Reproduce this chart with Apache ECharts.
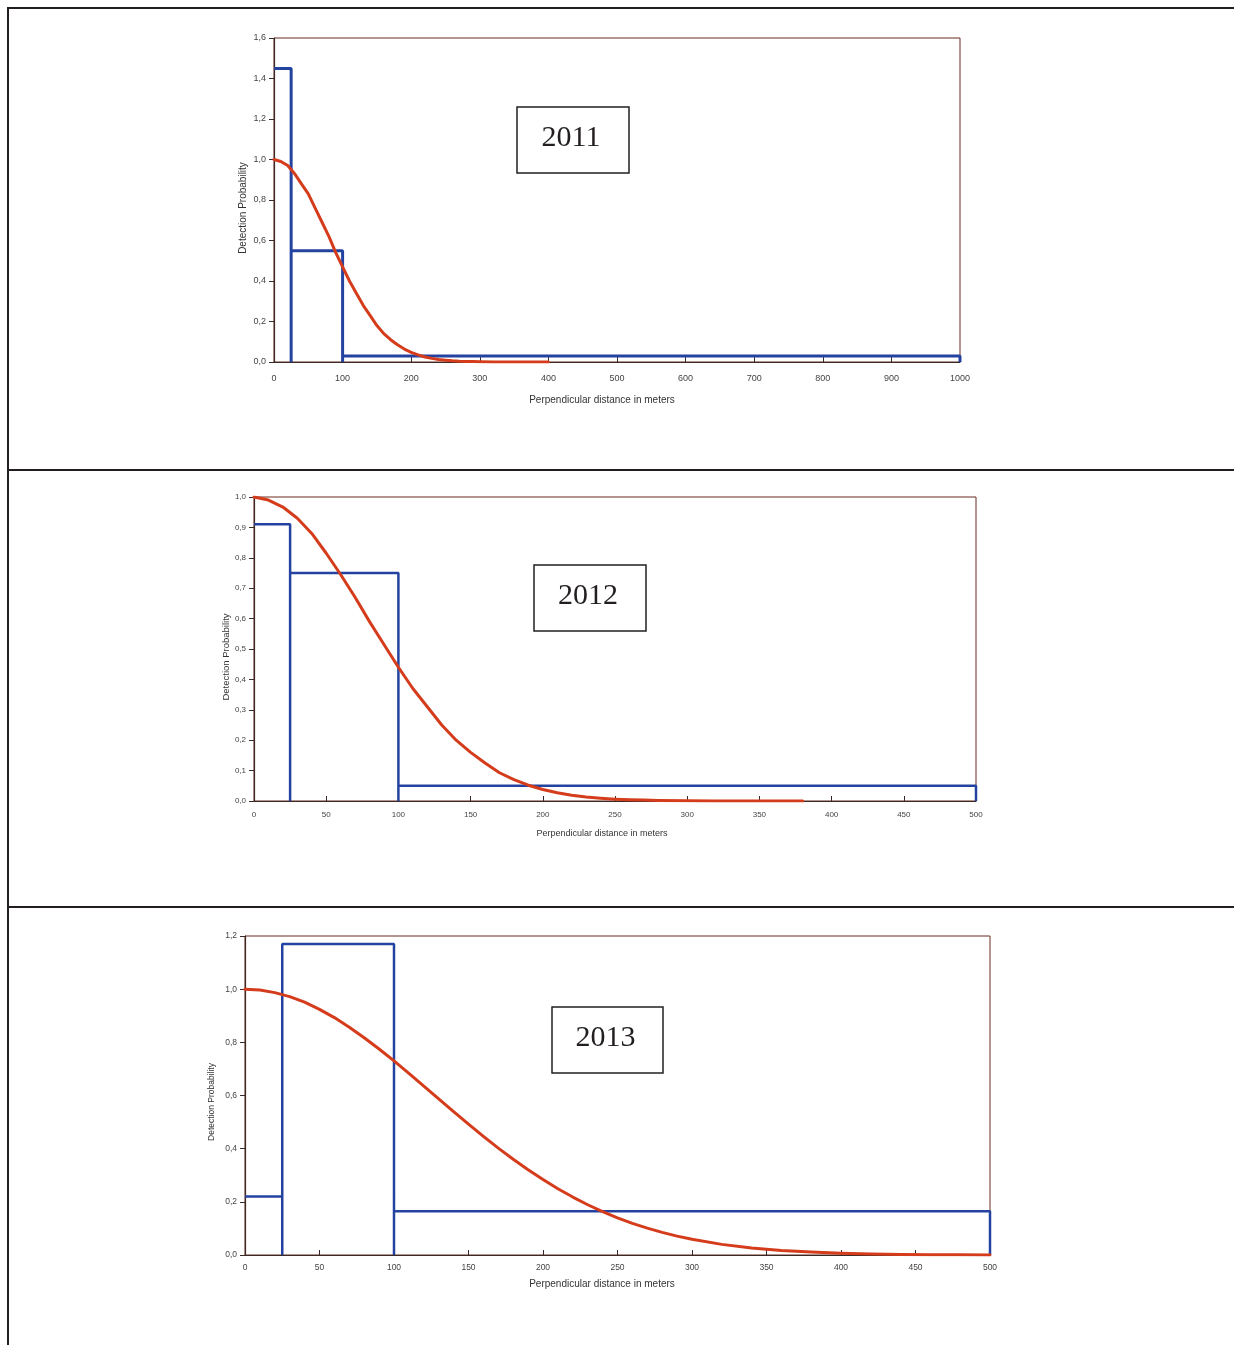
<!DOCTYPE html>
<html>
<head>
<meta charset="utf-8">
<script src="https://cdn.jsdelivr.net/npm/echarts@6/dist/echarts.min.js"></script>
<style>
html,body{margin:0;padding:0;background:#fff;}
#chart{width:1234px;height:1345px;}
</style>
</head>
<body>
<div id="chart"></div>
<script>
// ---- Data ----
const years = ['2011', '2012', '2013'];

const binEdges2011 = [0, 25, 100, 1000];
const binHeights2011 = [1.45, 0.55, 0.03];
const dist2011 = [0, 10, 20, 30, 40, 50, 60, 70, 80, 90, 100, 110, 120, 130, 140, 150, 160, 170, 180, 190, 200, 210, 220, 230, 240, 250, 260, 270, 280, 290, 300, 320, 340, 360, 380, 400];
const prob2011 = [1.0, 0.99, 0.97, 0.93, 0.88, 0.83, 0.76, 0.69, 0.62, 0.54, 0.47, 0.40, 0.34, 0.28, 0.23, 0.18, 0.14, 0.11, 0.085, 0.064, 0.048, 0.035, 0.025, 0.018, 0.012, 0.009, 0.006, 0.004, 0.003, 0.002, 0.001, 0, 0, 0, 0, 0];

const binEdges2012 = [0, 25, 100, 500];
const binHeights2012 = [0.91, 0.75, 0.05];
const dist2012 = [0, 10, 20, 30, 40, 50, 60, 70, 80, 90, 100, 110, 120, 130, 140, 150, 160, 170, 180, 190, 200, 210, 220, 230, 240, 250, 260, 270, 280, 300, 320, 340, 360, 380];
const prob2012 = [1.0, 0.99, 0.967, 0.93, 0.88, 0.815, 0.745, 0.67, 0.59, 0.515, 0.44, 0.37, 0.31, 0.25, 0.20, 0.16, 0.125, 0.093, 0.07, 0.052, 0.038, 0.027, 0.019, 0.013, 0.009, 0.006, 0.004, 0.003, 0.002, 0.001, 0, 0, 0, 0];

const binEdges2013 = [0, 25, 100, 500];
const binHeights2013 = [0.22, 1.17, 0.165];
const dist2013 = [0, 10, 20, 30, 40, 50, 60, 70, 80, 90, 100, 110, 120, 130, 140, 150, 160, 170, 180, 190, 200, 210, 220, 230, 240, 250, 260, 270, 280, 290, 300, 320, 340, 360, 380, 400, 420, 440, 460, 480, 500];
const prob2013 = [1.0, 0.997, 0.987, 0.972, 0.951, 0.924, 0.893, 0.857, 0.817, 0.775, 0.730, 0.683, 0.635, 0.587, 0.539, 0.492, 0.446, 0.402, 0.360, 0.321, 0.284, 0.249, 0.218, 0.189, 0.163, 0.140, 0.119, 0.101, 0.085, 0.071, 0.059, 0.040, 0.026, 0.017, 0.011, 0.0065, 0.004, 0.002, 0.0013, 0.0007, 0.0004];

const xAxisMax = [1000, 500, 500];
const xAxisStep = [100, 50, 50];
const yAxisMax = [1.6, 1.0, 1.2];
const yAxisStep = [0.2, 0.1, 0.2];

const xTitle = 'Perpendicular distance in meters';
const yTitle = 'Detection Probability';

// ---- Layout ----
const grids = [
  {left: 274, top: 38, width: 686, height: 324},
  {left: 254, top: 497, width: 722, height: 304},
  {left: 245, top: 936, width: 745, height: 319}
];
const yTitlePos = [[243, 208, 10], [226, 657, 9.5], [212, 1102, 8.5]];
const xTitlePos = [[602, 400, 10], [602, 834, 9], [602, 1284, 10]];
const labelSize = [9, 8, 8.5];
const xLabelMargin = [12, 10, 8];
const boxes = [
  {x: 517, y: 107, w: 112, h: 66},
  {x: 534, y: 565, w: 112, h: 66},
  {x: 552, y: 1007, w: 111, h: 66}
];
const blueWidth = [3, 2.5, 2.5];

function histPath(edges, heights) {
  const pts = [[edges[0], heights[0]]];
  for (let i = 0; i < heights.length; i++) {
    pts.push([edges[i + 1], heights[i]]);
    pts.push([edges[i + 1], 0]);
    if (i + 1 < heights.length) pts.push([edges[i + 1], heights[i + 1]]);
  }
  return pts;
}
function zip(xs, ys) { return xs.map((x, i) => [x, ys[i]]); }

const hists = [histPath(binEdges2011, binHeights2011), histPath(binEdges2012, binHeights2012), histPath(binEdges2013, binHeights2013)];
const curves = [zip(dist2011, prob2011), zip(dist2012, prob2012), zip(dist2013, prob2013)];

const chart = echarts.init(document.getElementById('chart'));
const axisColor = '#3a2a26';
const textColor = '#444';
const font = 'Liberation Sans, Arial';

const option = {
  animation: false,
  backgroundColor: '#fff',
  grid: grids.map(g => Object.assign({show: true, borderColor: '#6a2a20', borderWidth: 1, backgroundColor: 'transparent', containLabel: false}, g)),
  xAxis: grids.map((g, i) => ({
    type: 'value', gridIndex: i, min: 0, max: xAxisMax[i], interval: xAxisStep[i],
    axisLine: {lineStyle: {color: axisColor, width: 1.2}},
    axisTick: {inside: true, length: 5, lineStyle: {color: axisColor}},
    axisLabel: {fontFamily: font, fontSize: labelSize[i], color: textColor, margin: xLabelMargin[i], showMinLabel: true, showMaxLabel: true,
      formatter: v => String(Math.round(v))},
    splitLine: {show: false}
  })),
  yAxis: grids.map((g, i) => ({
    type: 'value', gridIndex: i, min: 0, max: yAxisMax[i], interval: yAxisStep[i],
    axisLine: {lineStyle: {color: axisColor, width: 1.2}},
    axisTick: {inside: false, length: 5, lineStyle: {color: axisColor}},
    axisLabel: {fontFamily: font, fontSize: labelSize[i], color: textColor, margin: 8,
      formatter: v => v.toFixed(1).replace('.', ',')},
    splitLine: {show: false}
  })),
  series: [].concat(
    hists.map((d, i) => ({
      type: 'line', xAxisIndex: i, yAxisIndex: i, data: d, symbol: 'none', z: 3,
      lineStyle: {color: '#2443a0', width: blueWidth[i]}
    })),
    curves.map((d, i) => ({
      type: 'line', xAxisIndex: i, yAxisIndex: i, data: d, symbol: 'none', smooth: false, z: 4,
      lineStyle: {color: '#d43c1c', width: 3, join: 'round', cap: 'round'}
    }))
  ),
  graphic: [].concat(
    [
      {type: 'rect', shape: {x: 7, y: 7, width: 1227, height: 2}, style: {fill: '#231f20'}},
      {type: 'rect', shape: {x: 7, y: 7, width: 2, height: 1338}, style: {fill: '#231f20'}},
      {type: 'rect', shape: {x: 7, y: 469, width: 1227, height: 2}, style: {fill: '#231f20'}},
      {type: 'rect', shape: {x: 7, y: 906, width: 1227, height: 2}, style: {fill: '#231f20'}}
    ],
    yTitlePos.map(p => ({
      type: 'text', x: p[0], y: p[1], rotation: Math.PI / 2,
      style: {text: yTitle, font: p[2] + 'px ' + font, fill: '#333', align: 'center', verticalAlign: 'middle'}
    })),
    xTitlePos.map(p => ({
      type: 'text', x: p[0], y: p[1],
      style: {text: xTitle, font: p[2] + 'px ' + font, fill: '#333', align: 'center', verticalAlign: 'middle'}
    })),
    boxes.map((b, i) => ({
      type: 'group', children: [
        {type: 'rect', shape: {x: b.x, y: b.y, width: b.w, height: b.h}, style: {fill: '#fff', stroke: '#231f20', lineWidth: 1.5}},
        {type: 'text', x: b.x + b.w / 2 - 2, y: b.y + b.h / 2 - 2, style: {text: years[i], font: '30px "Liberation Serif", "Times New Roman", serif', fill: '#231f20', align: 'center', verticalAlign: 'middle'}}
      ]
    }))
  )
};
chart.setOption(option);
</script>
</body>
</html>
